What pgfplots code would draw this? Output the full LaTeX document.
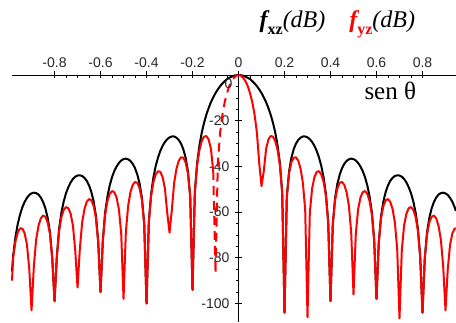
\documentclass[border=0pt]{standalone}
\usepackage{pgfplots}
\pgfplotsset{compat=1.18}
\usepackage{fontspec}
\setmainfont{Liberation Serif}
\newfontfamily\arial{Liberation Sans}
\begin{document}
\begin{tikzpicture}
\useasboundingbox (-12pt,0pt) rectangle (444pt,322pt);
\begin{axis}[
  at={(0,0)}, anchor=south west,
  scale only axis, width=444pt, height=247pt,
  xmin=-0.985, xmax=0.9457, ymin=-108.1, ymax=0,
  axis x line=top, axis y line=middle,
  axis line style={-, line width=0.7pt},
  hide obscured x ticks=false, hide obscured y ticks=false,
  xtick={-0.8,-0.6,-0.4,-0.2,0,0.2,0.4,0.6,0.8},
  xticklabels={-0.8,-0.6,-0.4,-0.2,0,0.2,0.4,0.6,0.8},
  ytick={-100,-80,-60,-40,-20,0},
  yticklabels={-100,-80,-60,-40,-20,{}},
  minor x tick num=3, minor y tick num=3,
  tick align=center, major tick length=7pt, minor tick length=3pt,
  every minor x tick/.append style={yshift=-1.5pt},
  every minor y tick/.append style={xshift=-1.5pt},
  tick style={black, line width=0.6pt},
  ticklabel style={font=\arial\fontsize{14}{14}\selectfont, text=black!85},
  yticklabel style={xshift=-2pt},
  clip=false,
]
% f_xz (black)
\addplot[black, line width=2pt, line join=round] coordinates {
(-0.985,-86) (-0.98,-79.1) (-0.97,-70.9) (-0.96,-65.2) (-0.95,-61.1) (-0.94,-57.9) (-0.93,-55.5) (-0.92,-53.8) (-0.91,-52.5) (-0.90,-51.8)
(-0.89,-51.5) (-0.88,-51.7) (-0.87,-52.3) (-0.86,-53.6) (-0.85,-55.5) (-0.84,-58.3) (-0.83,-62.4) (-0.82,-68.7) (-0.81,-80.1) (-0.80,-99)
(-0.79,-79.4) (-0.78,-67.2) (-0.77,-60.1) (-0.76,-55.3) (-0.75,-51.7) (-0.74,-49.1) (-0.73,-47.0) (-0.72,-45.5) (-0.71,-44.5) (-0.70,-44.0)
(-0.69,-43.9) (-0.68,-44.2) (-0.67,-45.0) (-0.66,-46.3) (-0.65,-48.3) (-0.64,-51.2) (-0.63,-55.3) (-0.62,-61.6) (-0.61,-73.1) (-0.60,-95)
(-0.59,-72.4) (-0.58,-60.2) (-0.57,-53.2) (-0.56,-48.3) (-0.55,-44.7) (-0.54,-42.0) (-0.53,-40.0) (-0.52,-38.5) (-0.51,-37.4) (-0.50,-36.8)
(-0.49,-36.6) (-0.48,-36.9) (-0.47,-37.6) (-0.46,-38.9) (-0.45,-40.8) (-0.44,-43.6) (-0.43,-47.6) (-0.42,-53.8) (-0.41,-65.2) (-0.40,-100)
(-0.39,-64.3) (-0.38,-52.0) (-0.37,-44.8) (-0.36,-39.8) (-0.35,-36.1) (-0.34,-33.2) (-0.33,-31.0) (-0.32,-29.3) (-0.31,-28.1) (-0.30,-27.3)
(-0.29,-26.9) (-0.28,-26.9) (-0.27,-27.4) (-0.26,-28.4) (-0.25,-30.0) (-0.24,-32.5) (-0.23,-36.2) (-0.22,-42.1) (-0.21,-53.1) (-0.20,-94)
(-0.19,-51.4) (-0.18,-38.6) (-0.17,-30.9) (-0.16,-25.3) (-0.15,-21.0) (-0.14,-17.4) (-0.13,-14.5) (-0.12,-11.9) (-0.11,-9.8) (-0.10,-7.9)
(-0.09,-6.3) (-0.08,-4.9) (-0.07,-3.7) (-0.06,-2.7) (-0.05,-1.8) (-0.04,-1.2) (-0.03,-0.7) (-0.02,-0.3) (-0.01,-0.1) (0,0)
(0.01,-0.1) (0.02,-0.3) (0.03,-0.7) (0.04,-1.2) (0.05,-1.8) (0.06,-2.7) (0.07,-3.7) (0.08,-4.9) (0.09,-6.3) (0.10,-7.9)
(0.11,-9.8) (0.12,-11.9) (0.13,-14.5) (0.14,-17.4) (0.15,-21.0) (0.16,-25.3) (0.17,-30.9) (0.18,-38.6) (0.19,-51.4) (0.20,-104)
(0.21,-53.1) (0.22,-42.1) (0.23,-36.2) (0.24,-32.5) (0.25,-30.0) (0.26,-28.4) (0.27,-27.4) (0.28,-26.9) (0.29,-26.9) (0.30,-27.3)
(0.31,-28.1) (0.32,-29.3) (0.33,-31.0) (0.34,-33.2) (0.35,-36.1) (0.36,-39.8) (0.37,-44.8) (0.38,-52.0) (0.39,-64.3) (0.40,-99)
(0.41,-65.2) (0.42,-53.8) (0.43,-47.6) (0.44,-43.6) (0.45,-40.8) (0.46,-38.9) (0.47,-37.6) (0.48,-36.9) (0.49,-36.6) (0.50,-36.8)
(0.51,-37.4) (0.52,-38.5) (0.53,-40.0) (0.54,-42.0) (0.55,-44.7) (0.56,-48.3) (0.57,-53.2) (0.58,-60.2) (0.59,-72.4) (0.60,-98)
(0.61,-73.1) (0.62,-61.6) (0.63,-55.3) (0.64,-51.2) (0.65,-48.3) (0.66,-46.3) (0.67,-45.0) (0.68,-44.2) (0.69,-43.9) (0.70,-44.0)
(0.71,-44.5) (0.72,-45.5) (0.73,-47.0) (0.74,-49.1) (0.75,-51.7) (0.76,-55.3) (0.77,-60.1) (0.78,-67.2) (0.79,-79.4) (0.80,-104)
(0.81,-80.1) (0.82,-68.7) (0.83,-62.4) (0.84,-58.3) (0.85,-55.5) (0.86,-53.6) (0.87,-52.3) (0.88,-51.7) (0.89,-51.5) (0.90,-51.8)
(0.91,-52.5) (0.92,-53.8) (0.93,-55.5) (0.94,-57.9) (0.945,-59.5)
};
% f_yz (red) left part
\addplot[red, line width=2pt, line join=round] coordinates {
(-0.985,-90) (-0.98,-80.0) (-0.97,-72.9) (-0.96,-68.9) (-0.95,-67.1) (-0.94,-67.2) (-0.93,-69.3) (-0.92,-74.2) (-0.91,-84.8) (-0.90,-103)
(-0.89,-83.7) (-0.88,-72.1) (-0.87,-66.1) (-0.86,-62.8) (-0.85,-61.5) (-0.84,-62.0) (-0.83,-64.4) (-0.82,-69.5) (-0.81,-80.3) (-0.80,-99)
(-0.79,-79.6) (-0.78,-68.1) (-0.77,-62.1) (-0.76,-59.0) (-0.75,-57.8) (-0.74,-58.3) (-0.73,-60.7) (-0.72,-65.9) (-0.71,-76.8) (-0.70,-93)
(-0.69,-76.1) (-0.68,-64.6) (-0.67,-58.7) (-0.66,-55.5) (-0.65,-54.3) (-0.64,-54.8) (-0.63,-57.3) (-0.62,-62.5) (-0.61,-73.3) (-0.60,-95)
(-0.59,-72.6) (-0.58,-61.1) (-0.57,-55.2) (-0.56,-52.0) (-0.55,-50.8) (-0.54,-51.3) (-0.53,-53.7) (-0.52,-58.9) (-0.51,-69.6) (-0.50,-98)
(-0.49,-68.9) (-0.48,-57.3) (-0.47,-51.3) (-0.46,-48.1) (-0.45,-46.8) (-0.44,-47.2) (-0.43,-49.6) (-0.42,-54.7) (-0.41,-65.4) (-0.40,-100)
(-0.39,-64.5) (-0.38,-52.9) (-0.37,-46.8) (-0.36,-43.5) (-0.35,-42.1) (-0.34,-42.4) (-0.33,-44.7) (-0.32,-49.7) (-0.31,-60.3) (-0.30,-69)
(-0.29,-59.1) (-0.28,-47.3) (-0.27,-41.1) (-0.26,-37.6) (-0.25,-36.0) (-0.24,-36.2) (-0.23,-38.2) (-0.22,-43.0) (-0.21,-53.3) (-0.20,-94)
(-0.19,-51.6) (-0.18,-39.4) (-0.17,-32.9) (-0.16,-29.0) (-0.15,-27.0) (-0.14,-26.7) (-0.13,-28.2) (-0.12,-32.3) (-0.11,-42.0)
};
% f_yz (red) dashed piece of the main lobe
\addplot[red, line width=2pt, dash pattern=on 9pt off 6pt] coordinates {
(-0.11,-42.0) (-0.10,-87) (-0.09,-38.5) (-0.08,-25.3) (-0.07,-17.4) (-0.06,-11.9) (-0.05,-7.9) (-0.04,-4.8) (-0.03,-2.7) (-0.02,-1.2) (-0.01,-0.3) (0,0)
};
% f_yz (red) right part
\addplot[red, line width=2pt, line join=round] coordinates {
(0,0) (0.01,-0.3) (0.02,-1.2) (0.03,-2.7) (0.04,-4.8) (0.05,-7.9) (0.06,-11.9) (0.07,-17.4) (0.08,-25.3) (0.09,-38.5) (0.10,-48.6)
(0.11,-42.0) (0.12,-32.3) (0.13,-28.2) (0.14,-26.7) (0.15,-27.0) (0.16,-29.0) (0.17,-32.9) (0.18,-39.4) (0.19,-51.6) (0.20,-104)
(0.21,-53.3) (0.22,-43.0) (0.23,-38.2) (0.24,-36.2) (0.25,-36.0) (0.26,-37.6) (0.27,-41.1) (0.28,-47.3) (0.29,-59.1) (0.30,-106)
(0.31,-60.3) (0.32,-49.7) (0.33,-44.7) (0.34,-42.4) (0.35,-42.1) (0.36,-43.5) (0.37,-46.8) (0.38,-52.9) (0.39,-64.5) (0.40,-99)
(0.41,-65.4) (0.42,-54.7) (0.43,-49.6) (0.44,-47.2) (0.45,-46.8) (0.46,-48.1) (0.47,-51.3) (0.48,-57.3) (0.49,-68.9) (0.50,-96)
(0.51,-69.6) (0.52,-58.9) (0.53,-53.7) (0.54,-51.3) (0.55,-50.8) (0.56,-52.0) (0.57,-55.2) (0.58,-61.1) (0.59,-72.6) (0.60,-98)
(0.61,-73.3) (0.62,-62.5) (0.63,-57.3) (0.64,-54.8) (0.65,-54.3) (0.66,-55.5) (0.67,-58.7) (0.68,-64.6) (0.69,-76.1) (0.70,-106.5)
(0.71,-76.8) (0.72,-65.9) (0.73,-60.7) (0.74,-58.3) (0.75,-57.8) (0.76,-59.0) (0.77,-62.1) (0.78,-68.1) (0.79,-79.6) (0.80,-104)
(0.81,-80.3) (0.82,-69.5) (0.83,-64.4) (0.84,-62.0) (0.85,-61.5) (0.86,-62.8) (0.87,-66.1) (0.88,-72.1) (0.89,-83.7) (0.90,-103)
(0.91,-84.8) (0.92,-74.2) (0.93,-69.3) (0.94,-67.2) (0.945,-67.1)
};
\node[anchor=east, inner sep=0pt, xshift=-6pt, font=\arial\fontsize{14}{14}\selectfont, text=black!85] at (axis cs:0,-3.7) {0};
\node[anchor=base, font=\fontsize{25}{25}\selectfont] at (axis cs:0.66,-10.9) {sen θ};
\node[anchor=base, inner sep=0pt] at (axis cs:0.43,20.6) {%
{\fontsize{24}{24}\selectfont\bfseries\itshape f}\raisebox{-7pt}{\fontsize{16}{16}\selectfont\bfseries xz}{\fontsize{24}{24}\selectfont\itshape (dB)}\hspace{24pt}%
\textcolor{red}{{\fontsize{24}{24}\selectfont\bfseries\itshape f}\raisebox{-7pt}{\fontsize{16}{16}\selectfont\bfseries yz}}{\fontsize{24}{24}\selectfont\itshape (dB)}};
\end{axis}
\end{tikzpicture}
\end{document}
